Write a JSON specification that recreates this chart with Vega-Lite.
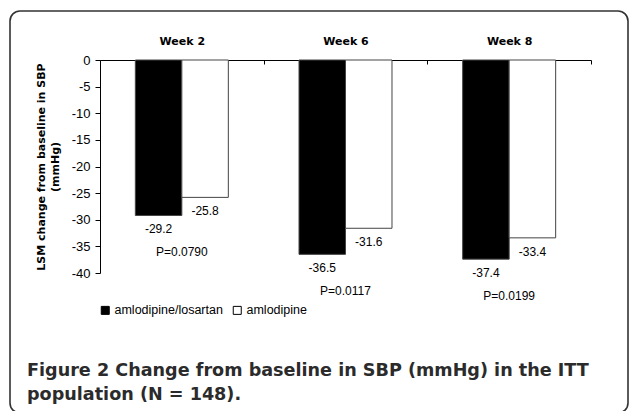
{
  "$schema": "https://vega.github.io/schema/vega-lite/v6.json",
  "width": 618,
  "height": 402,
  "autosize": "none",
  "padding": {"left": 10, "top": 11, "right": 2, "bottom": 0},
  "background": "white",
  "config": {
    "view": {"stroke": "#333333", "strokeWidth": 1.6, "cornerRadius": 10},
    "font": "Liberation Sans",
    "axis": {"grid": false, "domainColor": "black", "tickColor": "black", "labelColor": "black", "titleColor": "black"}
  },
  "title": {
    "text": ["Figure 2 Change from baseline in SBP (mmHg) in the ITT", "population (N = 148)."],
    "orient": "bottom",
    "anchor": "start",
    "frame": "group",
    "offset": -51,
    "dx": 17,
    "font": "DejaVu Sans",
    "fontSize": 17.6,
    "fontWeight": "bold",
    "color": "#2b2b2b",
    "lineHeight": 23.5
  },
  "data": {
    "values": [
      {"week": "Week 2", "treatment": "amlodipine/losartan", "value": -29.2, "p": "P=0.0790"},
      {"week": "Week 2", "treatment": "amlodipine", "value": -25.8, "p": ""},
      {"week": "Week 6", "treatment": "amlodipine/losartan", "value": -36.5, "p": "P=0.0117"},
      {"week": "Week 6", "treatment": "amlodipine", "value": -31.6, "p": ""},
      {"week": "Week 8", "treatment": "amlodipine/losartan", "value": -37.4, "p": "P=0.0199"},
      {"week": "Week 8", "treatment": "amlodipine", "value": -33.4, "p": ""}
    ]
  },
  "layer": [
    {
      "mark": {"type": "bar", "stroke": "#444444", "strokeWidth": 1},
      "encoding": {
        "x": {
          "field": "week", "type": "nominal",
          "scale": {"range": [90, 581], "paddingInner": 0, "paddingOuter": 0},
          "axis": {"orient": "top", "offset": -49, "title": null, "labelAngle": 0, "labelFont": "DejaVu Sans", "labelFontSize": 11, "labelFontWeight": "bold", "tickBand": "extent", "tickSize": -4, "labelPadding": 18}
        },
        "xOffset": {
          "field": "treatment", "type": "nominal",
          "sort": ["amlodipine/losartan", "amlodipine"],
          "scale": {"paddingInner": 0, "paddingOuter": 0.76}
        },
        "y": {
          "field": "value", "type": "quantitative",
          "scale": {"domain": [-40, 0], "range": [262, 49], "nice": false, "zero": false},
          "axis": {
            "orient": "left", "offset": -90,
            "values": [0, -5, -10, -15, -20, -25, -30, -35, -40],
            "labelExpr": "toString(datum.value)",
            "labelFontSize": 13,
            "tickSize": 5, "labelPadding": 5,
            "title": ["LSM change from baseline in SBP", "(mmHg)"],
            "titleFont": "DejaVu Sans",
            "titleFontWeight": "bold", "titleFontSize": 11, "titleLineHeight": 14, "titlePadding": 11
          }
        },
        "fill": {
          "field": "treatment", "type": "nominal",
          "scale": {"domain": ["amlodipine/losartan", "amlodipine"], "range": ["black", "white"]},
          "legend": {
            "orient": "none", "legendX": 89, "legendY": 293, "direction": "horizontal",
            "title": null, "symbolType": "square", "symbolSize": 64,
            "symbolStrokeColor": "black", "symbolStrokeWidth": 1,
            "labelFontSize": 12.5, "labelColor": "black", "labelOffset": 3, "columnPadding": 8, "padding": 0
          }
        }
      }
    },
    {
      "mark": {"type": "text", "dy": 14, "baseline": "middle", "fontSize": 12, "color": "black"},
      "encoding": {
        "x": {"field": "week", "type": "nominal"},
        "xOffset": {"field": "treatment", "type": "nominal", "sort": ["amlodipine/losartan", "amlodipine"]},
        "y": {"field": "value", "type": "quantitative"},
        "text": {"field": "value", "type": "nominal"}
      }
    },
    {
      "transform": [{"filter": "datum.p != ''"}],
      "mark": {"type": "text", "dy": 37, "baseline": "middle", "fontSize": 12, "color": "black"},
      "encoding": {
        "x": {"field": "week", "type": "nominal"},
        "y": {"field": "value", "type": "quantitative"},
        "text": {"field": "p", "type": "nominal"}
      }
    }
  ]
}
